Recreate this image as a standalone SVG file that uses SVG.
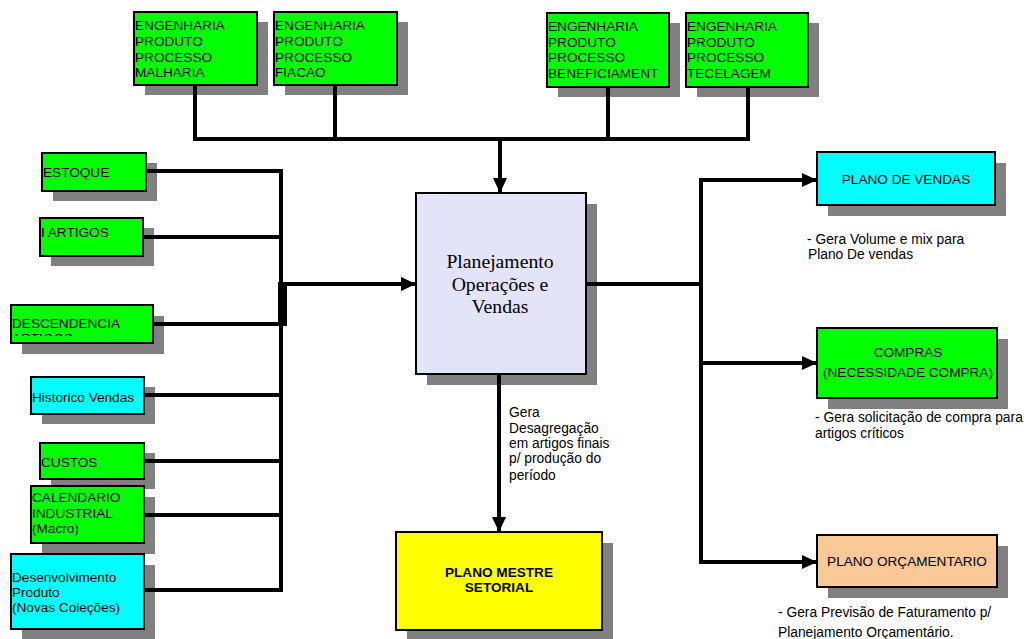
<svg xmlns="http://www.w3.org/2000/svg" width="1026" height="639" viewBox="0 0 1026 639">
  <style>
    .shadow { fill: #808080; }
    .box { stroke: #000; stroke-width: 2; }
    .green { fill: #00FF00; }
    .cyan { fill: #00FFFF; }
    .lav { fill: #E4E4F8; }
    .yellow { fill: #FFFF00; }
    .peach { fill: #FBC898; }
    .t { font-family: "Liberation Sans", Arial, sans-serif; font-size: 13.6px; fill: #000; }
    .c { font-family: "Liberation Sans", Arial, sans-serif; font-size: 13.8px; fill: #000; }
    .mid { text-anchor: middle; }
    .b { font-weight: bold; }
    .serif { font-family: "Liberation Serif", "Times New Roman", serif; font-size: 19.7px; fill: #000; text-anchor: middle; }
    .wire { fill: none; stroke: #000; stroke-width: 4; stroke-linejoin: miter; stroke-linecap: square; }
    .arrow { fill: none; stroke: #000; stroke-width: 4; marker-end: url(#head); }
  </style>
  <defs>
    <marker id="head" markerUnits="userSpaceOnUse" markerWidth="16" markerHeight="16" refX="15" refY="8" orient="auto">
      <path d="M0,1 L15,8 L0,15 Z" fill="#000"/>
    </marker>
    <clipPath id="clipDesc">
      <rect x="11" y="305" width="142" height="31"/>
    </clipPath>
  </defs>

  <rect width="1026" height="639" fill="#fff"/>

  <!-- top feeder boxes -->
  <g id="eng-malharia">
    <rect class="shadow" x="145" y="22" width="123" height="73"/>
    <rect class="box green" x="134" y="12" width="123" height="73"/>
    <text class="t" x="135" y="30">ENGENHARIA</text>
    <text class="t" x="135" y="46">PRODUTO</text>
    <text class="t" x="135" y="62">PROCESSO</text>
    <text class="t" x="135" y="77">MALHARIA</text>
  </g>
  <g id="eng-fiacao">
    <rect class="shadow" x="285" y="22" width="123" height="73"/>
    <rect class="box green" x="274" y="12" width="123" height="73"/>
    <text class="t" x="275" y="30">ENGENHARIA</text>
    <text class="t" x="275" y="46">PRODUTO</text>
    <text class="t" x="275" y="62">PROCESSO</text>
    <text class="t" x="275" y="77">FIACAO</text>
  </g>
  <g id="eng-beneficiamento">
    <rect class="shadow" x="558" y="23" width="122" height="74"/>
    <rect class="box green" x="547" y="13" width="122" height="74"/>
    <text class="t" x="548" y="31">ENGENHARIA</text>
    <text class="t" x="548" y="47">PRODUTO</text>
    <text class="t" x="548" y="62">PROCESSO</text>
    <text class="t" x="548" y="78">BENEFICIAMENT</text>
  </g>
  <g id="eng-tecelagem">
    <rect class="shadow" x="697" y="23" width="122" height="74"/>
    <rect class="box green" x="686" y="13" width="122" height="74"/>
    <text class="t" x="687" y="31">ENGENHARIA</text>
    <text class="t" x="687" y="47">PRODUTO</text>
    <text class="t" x="687" y="62">PROCESSO</text>
    <text class="t" x="687" y="78">TECELAGEM</text>
  </g>

  <!-- left input boxes -->
  <g id="estoque">
    <rect class="shadow" x="53" y="163" width="104" height="38"/>
    <rect class="box green" x="42" y="153" width="104" height="38"/>
    <text class="t" x="43" y="177">ESTOQUE</text>
  </g>
  <g id="artigos">
    <rect class="shadow" x="51" y="228" width="103" height="38"/>
    <rect class="box green" x="40" y="218" width="103" height="38"/>
    <text class="t" x="41" y="237">I ARTIGOS</text>
  </g>
  <g id="descendencia">
    <rect class="shadow" x="22" y="316" width="142" height="38"/>
    <rect class="box green" x="11" y="305" width="142" height="38"/>
    <g clip-path="url(#clipDesc)">
      <text class="t" x="12" y="328">DESCENDENCIA</text>
      <text class="t" x="12" y="343">ARTIGOS</text>
    </g>
  </g>
  <g id="historico">
    <rect class="shadow" x="42" y="387" width="113" height="37"/>
    <rect class="box cyan" x="31" y="377" width="113" height="37"/>
    <text class="t" x="32" y="402">Historico Vendas</text>
  </g>
  <g id="custos">
    <rect class="shadow" x="51" y="453" width="104" height="36"/>
    <rect class="box green" x="40" y="443" width="104" height="36"/>
    <text class="t" x="41" y="467">CUSTOS</text>
  </g>
  <g id="calendario">
    <rect class="shadow" x="42" y="497" width="113" height="57"/>
    <rect class="box green" x="31" y="486" width="113" height="57"/>
    <text class="t" x="32" y="502">CALENDARIO</text>
    <text class="t" x="32" y="518">INDUSTRIAL</text>
    <text class="t" x="32" y="533">(Macro)</text>
  </g>
  <g id="desenvolvimento">
    <rect class="shadow" x="22" y="565" width="133" height="76"/>
    <rect class="box cyan" x="11" y="554" width="133" height="75"/>
    <text class="t" x="12" y="582">Desenvolvimento</text>
    <text class="t" x="12" y="597">Produto</text>
    <text class="t" x="12" y="612">(Novas Coleções)</text>
  </g>

  <!-- central process -->
  <g id="planejamento">
    <rect class="shadow" x="427" y="204" width="170" height="181"/>
    <rect class="box lav" x="416" y="193" width="170" height="181"/>
    <text class="serif" x="500" y="268">Planejamento</text>
    <text class="serif" x="500" y="291">Operações e</text>
    <text class="serif" x="500" y="313">Vendas</text>
  </g>

  <!-- outputs -->
  <g id="plano-mestre">
    <rect class="shadow" x="407" y="543" width="206" height="98"/>
    <rect class="box yellow" x="396" y="532" width="206" height="98"/>
    <text class="t b mid" x="499" y="577">PLANO MESTRE</text>
    <text class="t b mid" x="499" y="592">SETORIAL</text>
  </g>
  <g id="plano-vendas">
    <rect class="shadow" x="828" y="163" width="178" height="53"/>
    <rect class="box cyan" x="817" y="152" width="178" height="53"/>
    <text class="t mid" x="906" y="184">PLANO DE VENDAS</text>
  </g>
  <g id="compras">
    <rect class="shadow" x="828" y="339" width="180" height="70"/>
    <rect class="box green" x="817" y="328" width="180" height="70"/>
    <text class="t mid" x="908" y="357">COMPRAS</text>
    <text class="t mid" x="908" y="377">(NECESSIDADE COMPRA)</text>
  </g>
  <g id="plano-orcamentario">
    <rect class="shadow" x="828" y="546" width="180" height="52"/>
    <rect class="box peach" x="817" y="535" width="180" height="52"/>
    <text class="t mid" x="907" y="566">PLANO ORÇAMENTARIO</text>
  </g>

  <!-- annotations -->
  <g id="notes">
    <text class="c" x="807" y="244">- Gera Volume e mix para</text>
    <text class="c" x="808" y="259">Plano De vendas</text>
    <text class="c" x="815" y="422">- Gera solicitação de compra para</text>
    <text class="c" x="815" y="438">artigos críticos</text>
    <text class="c" x="778" y="617">- Gera Previsão de Faturamento p/</text>
    <text class="c" x="778" y="637">Planejamento Orçamentário.</text>
    <text class="c" x="509" y="417">Gera</text>
    <text class="c" x="509" y="433">Desagregação</text>
    <text class="c" x="509" y="448">em artigos finais</text>
    <text class="c" x="509" y="463">p/ produção do</text>
    <text class="c" x="509" y="480">período</text>
  </g>

  <!-- connectors -->
  <g id="connectors">
    <!-- engineering inputs merge downward -->
    <path class="wire" d="M195,86 V139 H748 V88"/>
    <path class="wire" d="M335,86 V139"/>
    <path class="wire" d="M608,88 V139"/>
    <path class="arrow" d="M500,139 V193"/>

    <!-- left inputs collect on a vertical bus -->
    <path class="wire" d="M147,171 H281 V590 H145"/>
    <path class="wire" d="M144,237 H281"/>
    <path class="wire" d="M154,324 H281"/>
    <path class="wire" d="M145,395 H281"/>
    <path class="wire" d="M145,461 H281"/>
    <path class="wire" d="M145,515 H281"/>
    <rect x="278" y="282" width="9" height="44" fill="#000"/>
    <path class="arrow" d="M283,284 H416"/>

    <!-- outputs distributed on the right -->
    <path class="wire" d="M587,284 H701"/>
    <path class="wire" d="M701,180 V562"/>
    <path class="arrow" d="M699,180 H817"/>
    <path class="arrow" d="M699,363 H817"/>
    <path class="arrow" d="M699,562 H817"/>

    <!-- down to the master plan -->
    <path class="arrow" d="M499,375 V532"/>
  </g>
</svg>
